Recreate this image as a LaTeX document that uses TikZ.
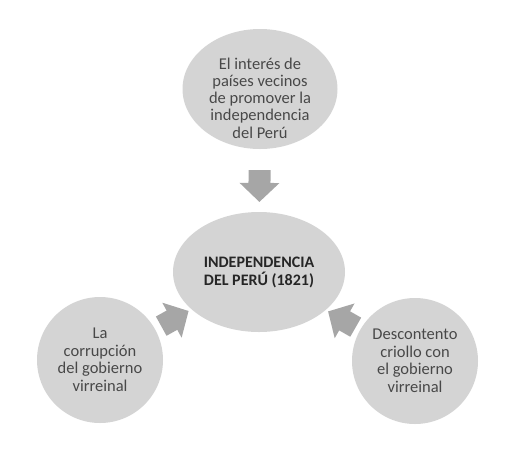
\documentclass[tikz,border=0pt]{standalone}
\usepackage{fontspec}
\setmainfont{Carlito}
\usetikzlibrary{positioning, calc, shapes.geometric}
\definecolor{bubblegray}{RGB}{212,212,212}
\definecolor{arrowgray}{RGB}{166,166,166}
\definecolor{textgray}{RGB}{72,72,72}
\definecolor{titlegray}{RGB}{38,38,38}

% block arrow from tail to tip
\newcommand{\blockarrow}[2]{%
  \coordinate (back) at ($(#2)!19pt!(#1)$);
  \fill[arrowgray] ($(#1)!11pt!90:(#2)$) -- ($(back)!11pt!90:(#2)$)
    -- ($(back)!20pt!90:(#2)$) -- (#2) -- ($(back)!20pt!-90:(#2)$)
    -- ($(back)!11pt!-90:(#2)$) -- ($(#1)!11pt!-90:(#2)$) -- cycle;}

\begin{document}
\begin{tikzpicture}[x=1pt, y=-1pt,
  bubble/.style={fill=bubblegray, inner sep=0pt, text=textgray, align=center,
    font=\fontsize{16.5}{17.5}\selectfont},
  bubbletext/.style={text=textgray, align=center, inner sep=0pt,
    font=\fontsize{16.5}{17.2}\selectfont}]
  \useasboundingbox (0,0) rectangle (516,448);
  % bubbles
  \node[bubble, ellipse, minimum width=155pt, minimum height=120pt] (cause) at (260,89) {};
  \node[bubbletext] (causetext) at ($(cause)+(0,9)$)
    {El interés de\\países vecinos\\de promover la\\independencia\\del Perú};
  \node[bubble, ellipse, minimum width=172pt, minimum height=120pt, text=titlegray,
    font=\fontsize{16}{18}\selectfont\bfseries] (main) at (259,272)
    {INDEPENDENCIA\\DEL PERÚ (1821)};
  \node[bubble, circle, minimum size=126pt] (corrupt) at (100,360)
    {La\\corrupción\\del gobierno\\virreinal};
  \node[bubble, circle, minimum size=126pt] (criollo) at (415,361)
    {Descontento\\criollo con\\el gobierno\\virreinal};
  % arrows
  \coordinate (toptail) at ($(cause)!0.443!(main)$);
  \coordinate (toptip) at ($(cause)!0.617!(main)$);
  \coordinate (lefttail) at ($(corrupt)!0.385!(main)$);
  \coordinate (lefttip) at ($(corrupt)!0.557!(main)$);
  \coordinate (righttail) at ($(criollo)!0.38!(main)$);
  \coordinate (righttip) at ($(criollo)!0.557!(main)$);
  \blockarrow{toptail}{toptip}
  \blockarrow{lefttail}{lefttip}
  \blockarrow{righttail}{righttip}
\end{tikzpicture}
\end{document}
